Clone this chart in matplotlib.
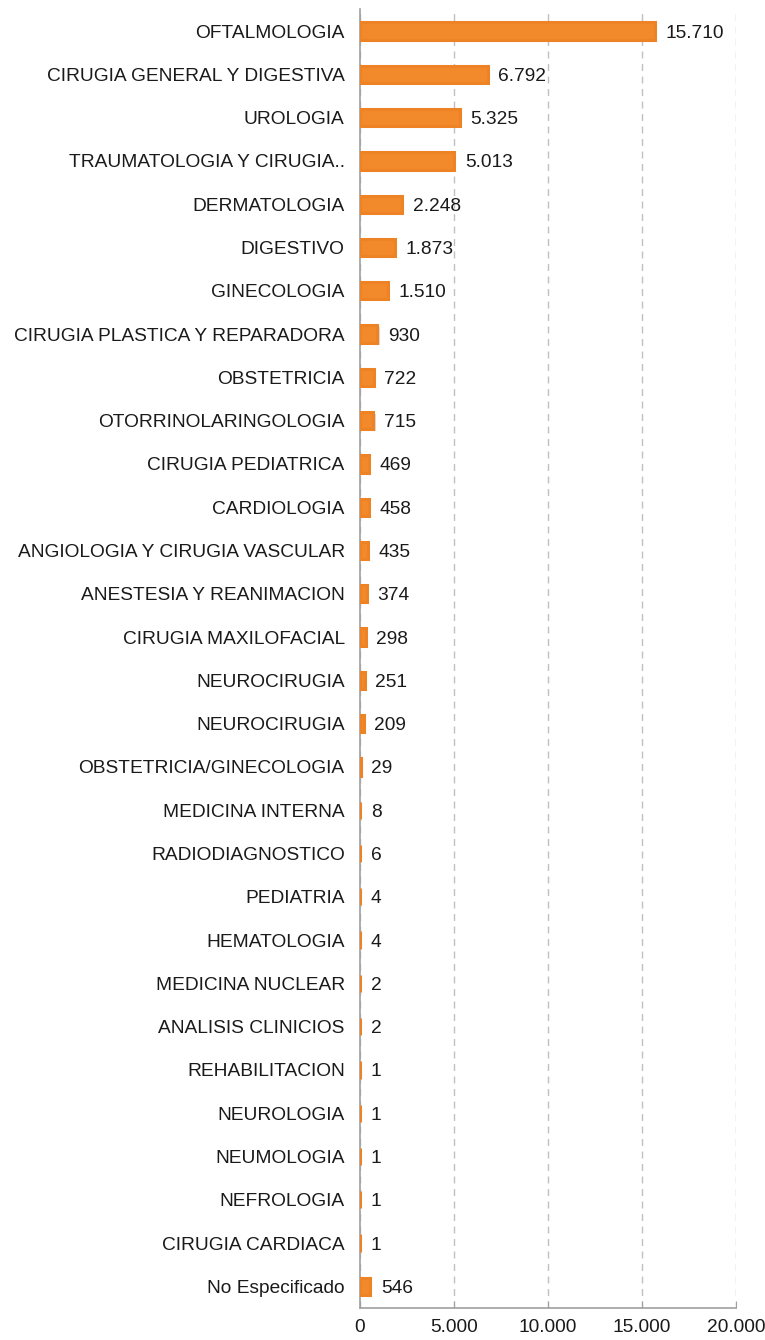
import matplotlib.pyplot as plt
import matplotlib.patheffects as pe
import numpy as np

plt.rcParams['font.family'] = ['Liberation Sans', 'DejaVu Sans']

categories = [
    "OFTALMOLOGIA", "CIRUGIA GENERAL Y DIGESTIVA", "UROLOGIA",
    "TRAUMATOLOGIA Y CIRUGIA..", "DERMATOLOGIA", "DIGESTIVO", "GINECOLOGIA",
    "CIRUGIA PLASTICA Y REPARADORA", "OBSTETRICIA", "OTORRINOLARINGOLOGIA",
    "CIRUGIA PEDIATRICA", "CARDIOLOGIA", "ANGIOLOGIA Y CIRUGIA VASCULAR",
    "ANESTESIA Y REANIMACION", "CIRUGIA MAXILOFACIAL", "NEUROCIRUGIA",
    "NEUROCIRUGIA", "OBSTETRICIA/GINECOLOGIA", "MEDICINA INTERNA",
    "RADIODIAGNOSTICO", "PEDIATRIA", "HEMATOLOGIA", "MEDICINA NUCLEAR",
    "ANALISIS CLINICIOS", "REHABILITACION", "NEUROLOGIA", "NEUMOLOGIA",
    "NEFROLOGIA", "CIRUGIA CARDIACA", "No Especificado",
]
values = [15710, 6792, 5325, 5013, 2248, 1873, 1510, 930, 722, 715, 469, 458,
          435, 374, 298, 251, 209, 29, 8, 6, 4, 4, 2, 2, 1, 1, 1, 1, 1, 546]
xticks = [0, 5000, 10000, 15000, 20000]
xtick_labels = ["0", "5.000", "10.000", "15.000", "20.000"]


def fmt(v):
    return f"{v:,}".replace(",", ".")


fig = plt.figure(figsize=(7.65, 13.4), dpi=100)
ax = fig.add_axes([0.4706, 0.0239, 0.962 - 0.4706, 0.993 - 0.0239])

y = np.arange(len(categories))
bars = ax.barh(y, values, height=0.40, color="#F28A2C", edgecolor="#EE8325",
               linewidth=2.2, zorder=3)
for b in bars:
    b.set_path_effects([pe.SimplePatchShadow(offset=(1.5, -1.5), alpha=0.18),
                        pe.Normal()])

for yi, v in zip(y, values):
    ax.text(v + 560, yi, fmt(v), va="center_baseline", ha="left",
            fontsize=13.8, color="#1a1a1a")

ax.set_yticks(y)
ax.set_yticklabels(categories, fontsize=13.8, color="#1a1a1a")
ax.set_ylim(len(categories) - 0.5, -0.5)
ax.set_xlim(0, 20000)
ax.set_xticks(xticks)
ax.set_xticklabels(xtick_labels, fontsize=13.8, color="#1a1a1a")

ax.tick_params(axis="y", length=0, pad=11)
ax.tick_params(axis="x", direction="in", length=5, color="#a0a0a0", pad=8)
ax.xaxis.grid(True, linestyle=(0, (5, 4)), color="#c0c0c0", linewidth=1)
ax.set_axisbelow(True)

for s in ["top", "right"]:
    ax.spines[s].set_visible(False)
ax.spines["left"].set_color("#a0a0a0")
ax.spines["bottom"].set_color("#a0a0a0")
ax.spines["left"].set_linewidth(1.2)
ax.spines["bottom"].set_linewidth(1.2)

fig.savefig("out.png", dpi=100)
